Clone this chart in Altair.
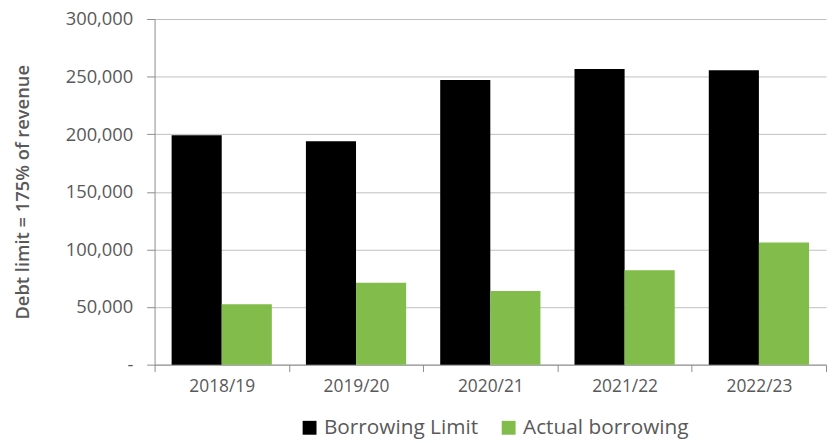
import altair as alt
import pandas as pd

years = ["2018/19", "2019/20", "2020/21", "2021/22", "2022/23"]
borrowing_limit = [199000, 194000, 247000, 256500, 255500]
actual_borrowing = [52500, 71000, 64000, 82000, 106000]
series = ["Borrowing Limit", "Actual borrowing"]
colors = ["#000000", "#82BC4A"]

rows = []
for i, y in enumerate(years):
    rows.append({"year": y, "series": series[0], "value": borrowing_limit[i]})
    rows.append({"year": y, "series": series[1], "value": actual_borrowing[i]})
df = pd.DataFrame(rows)

FONT = "Open Sans"
TXT = "#595959"
W, H = 678, 349

bars = alt.Chart(df).mark_bar().encode(
    x=alt.X("year:N", sort=years, title=None,
            scale=alt.Scale(paddingInner=0, paddingOuter=0),
            axis=alt.Axis(labelAngle=0, tickBand="extent", ticks=True, tickSize=7,
                          domainColor="#8c8c8c", tickColor="#8c8c8c",
                          labelFont=FONT, labelFontSize=17.5, labelColor=TXT,
                          labelPadding=6, grid=False)),
    xOffset=alt.XOffset("series:N", sort=series,
                        scale=alt.Scale(paddingOuter=0.34, paddingInner=0)),
    y=alt.Y("value:Q", title="Debt limit = 175% of revenue",
            scale=alt.Scale(domain=[0, 300000]),
            axis=alt.Axis(values=[0, 50000, 100000, 150000, 200000, 250000, 300000],
                          labelExpr="datum.value == 0 ? '-' : format(datum.value, ',')",
                          tickSize=8, domainColor="#8c8c8c", tickColor="#8c8c8c",
                          gridColor="#bfbfbf", labelFont=FONT, labelFontSize=18.5,
                          labelColor=TXT, labelPadding=14,
                          titleFont=FONT, titleFontSize=18.5, titleFontWeight=600,
                          titleColor=TXT, titlePadding=33)),
    color=alt.Color("series:N", sort=series,
                    scale=alt.Scale(domain=series, range=colors),
                    legend=alt.Legend(title=None, orient="none", direction="horizontal",
                                      legendX=146, legendY=402,
                                      symbolType="square", symbolSize=196,
                                      symbolStrokeWidth=0, symbolOpacity=1,
                                      labelFont=FONT, labelFontSize=21, labelColor=TXT,
                                      labelOffset=4, columnPadding=20, labelLimit=400)),
).properties(width=W, height=H)

chart = bars.properties(
    autosize=alt.AutoSizeParams(type="none"),
    padding={"left": 148, "top": 9, "right": 6, "bottom": 76},
).configure_view(stroke=None)

chart.save("out.html", embed_options={"renderer": "svg", "actions": False})
